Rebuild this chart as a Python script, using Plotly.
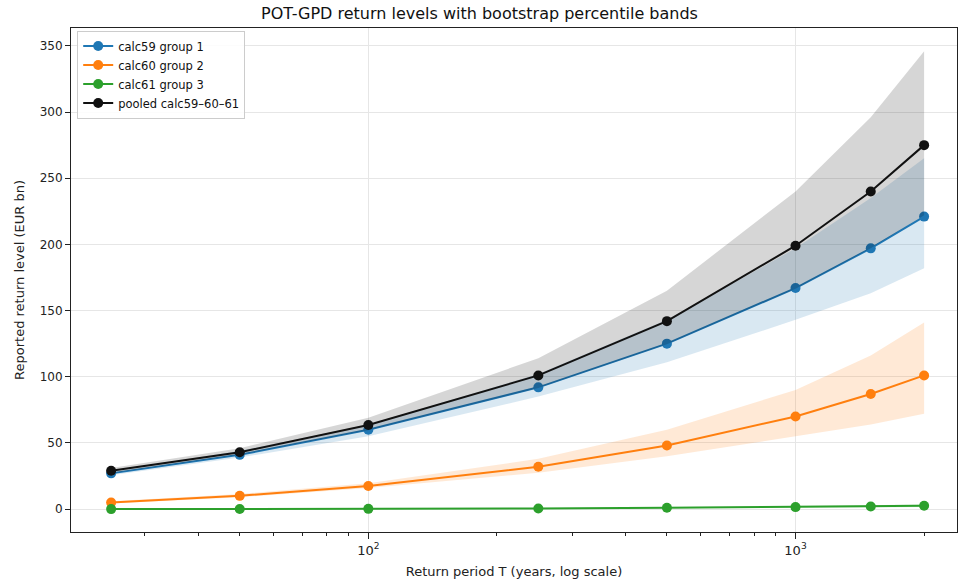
import plotly.graph_objects as go

# Return periods (years)
periods = [25, 50, 100, 250, 500, 1000, 1500, 2000]

# Point estimates of return level (EUR bn)
calc59 = [27, 41, 60, 92, 125, 167, 197, 221]
calc60 = [5, 10, 17.5, 32, 48, 70, 87, 101]
calc61 = [0.0, 0.1, 0.2, 0.5, 1.0, 1.5, 2.0, 2.5]
pooled = [29, 43, 63.5, 101, 142, 199, 240, 275]

# Bootstrap percentile bands (lower / upper)
calc59_lo = [25.5, 39, 55, 85, 111, 143, 163, 182]
calc59_hi = [28.5, 44, 64, 102, 143, 197, 235, 265]
calc60_lo = [4.3, 9, 16, 27.5, 40, 55, 64, 72]
calc60_hi = [6, 11.5, 19.5, 38, 60, 90, 116, 141]
calc61_lo = [0.0, 0.05, 0.1, 0.3, 0.6, 1.0, 1.3, 1.6]
calc61_hi = [0.1, 0.2, 0.4, 0.8, 1.5, 2.2, 3.0, 3.6]
pooled_lo = [27, 41, 59.5, 91.5, 124.5, 166.5, 197, 222]
pooled_hi = [31, 46, 69, 114, 165, 240, 296, 346]

series = [
    ("calc59 group 1", calc59, calc59_lo, calc59_hi, "#1f77b4", "rgba(31,119,180,0.17)"),
    ("calc60 group 2", calc60, calc60_lo, calc60_hi, "#ff7f0e", "rgba(255,127,14,0.17)"),
    ("calc61 group 3", calc61, calc61_lo, calc61_hi, "#2ca02c", "rgba(44,160,44,0.17)"),
    ("pooled calc59\u201360\u201361", pooled, pooled_lo, pooled_hi, "#111111", "rgba(0,0,0,0.16)"),
]

fig = go.Figure()
for name, vals, lo, hi, color, fill in series:
    fig.add_trace(go.Scatter(
        x=periods + periods[::-1], y=hi + lo[::-1],
        fill="toself", fillcolor=fill, mode="lines",
        line=dict(width=0), hoverinfo="skip", showlegend=False,
    ))
    fig.add_trace(go.Scatter(
        x=periods, y=vals, name=name, mode="lines+markers",
        line=dict(color=color, width=2), marker=dict(color=color, size=10),
    ))

# Minor tick marks on the log axis, drawn via an overlaid axis
minor_ticks = [v * 10 ** e for e in (1, 2, 3) for v in range(2, 10) if 20 <= v * 10 ** e <= 2300]
fig.add_trace(go.Scatter(x=[100], y=[None], xaxis="x2", showlegend=False, hoverinfo="skip"))

font = "DejaVu Sans, Liberation Sans, sans-serif"
xrange = [1.304, 3.378]

fig.update_layout(
    width=959, height=582,
    margin=dict(l=71, r=2, t=28, b=50),
    paper_bgcolor="white", plot_bgcolor="white",
    font=dict(family=font, size=12, color="#222"),
    title=dict(text="POT-GPD return levels with bootstrap percentile bands",
               x=0.5, xanchor="center", y=1 - 13 / 582, yanchor="middle",
               yref="container", font=dict(size=16, color="#111")),
    xaxis=dict(
        type="log", range=xrange,
        tickvals=[100, 1000], ticktext=["10<sup>2</sup>", "10<sup>3</sup>"],
        ticks="outside", ticklen=6, tickcolor="#222",
        showgrid=True, gridcolor="#e6e6e6", gridwidth=1,
        showline=True, linecolor="#222", linewidth=1, mirror=True,
        zeroline=False, tickfont=dict(size=13),
        title=dict(text="Return period T (years, log scale)", font=dict(size=13), standoff=10),
    ),
    xaxis2=dict(
        type="log", range=xrange, overlaying="x", side="bottom",
        tickvals=minor_ticks, showticklabels=False,
        ticks="outside", ticklen=3, tickcolor="#222",
        showgrid=False, showline=False, zeroline=False,
    ),
    yaxis=dict(
        range=[-17.3, 363.5],
        tickvals=[0, 50, 100, 150, 200, 250, 300, 350],
        ticks="outside", ticklen=5, tickcolor="#222",
        showgrid=True, gridcolor="#e6e6e6", gridwidth=1,
        showline=True, linecolor="#222", linewidth=1, mirror=True,
        zeroline=False, tickfont=dict(size=12),
        title=dict(text="Reported return level (EUR bn)", font=dict(size=13), standoff=12),
    ),
    legend=dict(
        x=0.007, y=0.995, xanchor="left", yanchor="top",
        bgcolor="rgba(255,255,255,0.85)", bordercolor="#cccccc", borderwidth=1,
        font=dict(size=11.5, color="#111"), tracegroupgap=0, itemwidth=30,
    ),
    showlegend=True,
)

fig.write_html("out.html")
